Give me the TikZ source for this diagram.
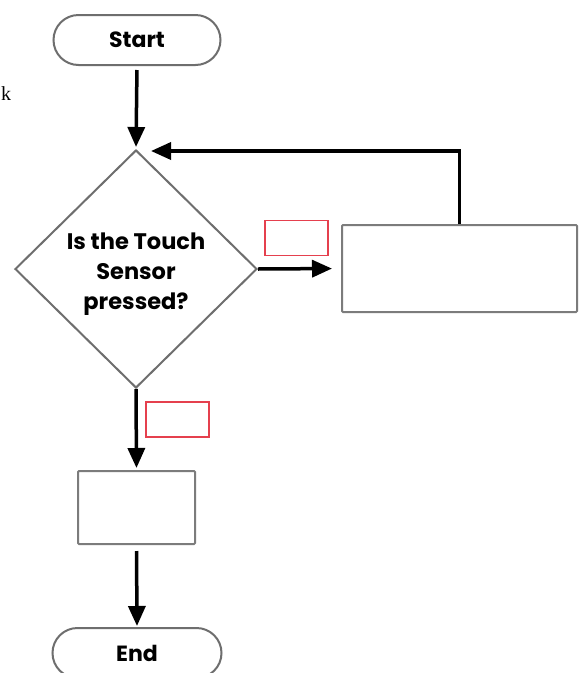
\documentclass[tikz,border=0pt]{standalone}
\usepackage{fontspec}
\setmainfont{Poppins}
\newfontfamily\kfont{Liberation Serif}
\usetikzlibrary{arrows.meta,shapes.geometric}

\definecolor{edgegray}{HTML}{6E6E6E}
\definecolor{boxgray}{HTML}{7C7C7C}
\definecolor{tagred}{HTML}{E5404E}

\tikzset{
  terminal/.style={draw=edgegray, line width=2pt, rectangle, rounded corners=25pt,
    minimum width=167pt, minimum height=50pt, inner sep=0pt,
    font=\bfseries\fontsize{22}{26}\selectfont},
  decision/.style={draw=edgegray, line width=2pt, diamond, inner sep=0pt,
    minimum width=242pt, minimum height=238pt},
  question/.style={align=center, inner sep=0pt,
    font=\bfseries\fontsize{22.5}{30}\selectfont},
  process/.style={draw=boxgray, line width=2pt, rectangle, rounded corners=1pt, inner sep=0pt},
  tag/.style={draw=tagred, line width=1.2pt, rectangle, inner sep=0pt,
    minimum width=63pt, minimum height=35pt},
  flow/.style={line width=3.5pt, -{Triangle[length=20pt,width=17pt]}}
}

\begin{document}
\begin{tikzpicture}[x=1pt,y=-1pt]
  \fill[white] (0,0) rectangle (580,673);
  \useasboundingbox (0,0) rectangle (580,673);

  % stray margin letter
  \node[anchor=base west, inner sep=0pt, font=\kfont\fontsize{20}{20}\selectfont] (kmark) at (1,100) {k};

  % flowchart nodes
  \node[terminal] (start) at (137,40) {Start};
  \node[decision] (dec) at (136,269) {};
  \node[question] (decq) at ([yshift=-5pt]dec.center) {Is the Touch\\Sensor\\pressed?};
  \node[process, minimum width=235pt, minimum height=87pt] (act) at (459.5,268.5) {};
  \node[process, minimum width=117pt, minimum height=73pt] (low) at (136.5,507.5) {};
  \node[terminal, minimum width=169pt] (end) at (137,653) {End};

  % empty branch labels
  \node[tag] (yes) at (296.5,238) {};
  \node[tag] (no) at (177.5,419.5) {};

  % connectors
  \draw[flow, shorten <=4pt, shorten >=2pt] (start.south) -- (dec.north);
  \draw[flow, shorten >=9pt] (dec.east) -- (act.west);
  \draw[flow, shorten >=2pt] (dec.south) -- (low.north);
  \draw[flow, shorten <=6pt, shorten >=1pt] (low.south) -- (end.north);
  \draw[flow, shorten >=15pt] (act.north) |- ([yshift=-2pt]dec.north);
\end{tikzpicture}
\end{document}
